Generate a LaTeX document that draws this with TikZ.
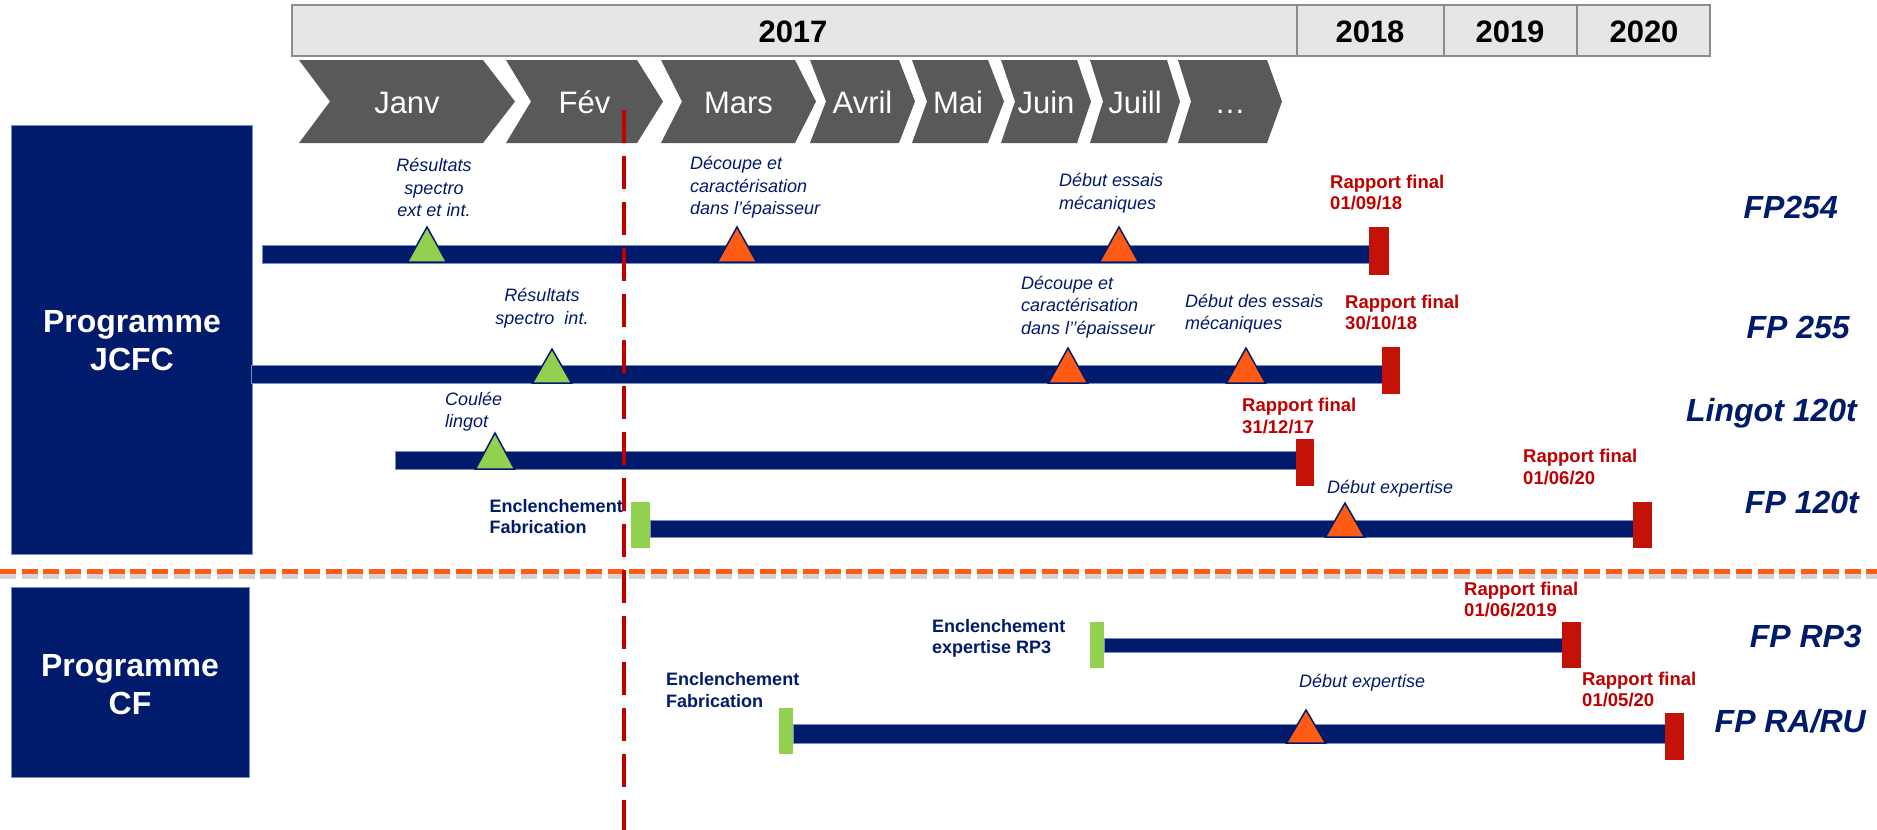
\documentclass[tikz,border=0pt]{standalone}
\usepackage{fontspec}
\setmainfont{Liberation Sans}
\definecolor{navy}{RGB}{0,26,108}
\definecolor{baredge}{RGB}{120,140,190}
\definecolor{markred}{RGB}{196,18,8}
\definecolor{textred}{RGB}{192,0,0}
\definecolor{markgreen}{RGB}{146,208,80}
\definecolor{markorange}{RGB}{255,91,20}
\definecolor{chevgray}{RGB}{89,89,89}
\definecolor{yearfill}{RGB}{230,230,230}
\definecolor{yearline}{RGB}{140,140,140}
\definecolor{todayred}{RGB}{192,0,0}
\definecolor{shadowgray}{RGB}{212,212,212}

\newcommand\fMonth{\fontsize{31}{36}\selectfont}
\newcommand\fYear{\fontsize{31}{36}\selectfont\bfseries}
\newcommand\fProg{\fontsize{32}{38}\selectfont\bfseries}
\newcommand\fRow{\fontsize{32}{36}\selectfont\bfseries\itshape}
\newcommand\fNote{\fontsize{18}{22.5}\selectfont\itshape}
\newcommand\fRed{\fontsize{18.5}{21.5}\selectfont\bfseries}
\newcommand\fStart{\fontsize{18}{21.5}\selectfont\bfseries}

\tikzset{
  yearbox/.style={fill=yearfill, draw=yearline, line width=2},
  yeartext/.style={inner sep=0, font=\fYear, text=black},
  chevfill/.style={fill=chevgray},
  monthtext/.style={inner sep=0, font=\fMonth, text=white, anchor=base},
  progbox/.style={fill=navy, draw=baredge, line width=0.8},
  progtext/.style={inner sep=0, font=\fProg, text=white, align=center},
  bar/.style={fill=navy, draw=baredge, line width=0.6},
  endmark/.style={fill=markred},
  startmark/.style={fill=markgreen},
  milestone/.style={draw=navy, line width=1.5, line join=miter},
  rowlabel/.style={inner sep=0, font=\fRow, text=navy, anchor=base east},
  note/.style={inner sep=0, font=\fNote, text=navy, align=left, anchor=west},
  notec/.style={inner sep=0, font=\fNote, text=navy, align=center, anchor=center},
  deadline/.style={inner sep=0, font=\fRed, text=textred, align=left, anchor=west},
  kickoff/.style={inner sep=0, font=\fStart, text=navy, align=left, anchor=west},
  todayline/.style={draw=todayred, line width=4, dash pattern=on 33pt off 13pt},
  separator/.style={draw=markorange, line width=5, dash pattern=on 16pt off 5.7pt},
  sepshadow/.style={draw=shadowgray, line width=6, dash pattern=on 16pt off 5.7pt},
}

\newcommand\mstone[4]{\filldraw[milestone, fill=#4] (#1,#2) -- ({#1+19.5},#3) -- ({#1-19.5},#3) -- cycle;}
\newcommand\monthchev[6]{%
  \fill[chevfill] (#1,60) -- (#2,60) -- ({#2+#3},101.5) -- (#2,143) -- (#1,143) -- ({#1+#4},101.5) -- cycle;
  \node[monthtext] (#5) at ({(#1+#2+#3)/2},113) {#6};}

\begin{document}
\begin{tikzpicture}[x=1pt,y=-1pt]
\useasboundingbox (0,0) rectangle (1877,830);
\fill[white] (0,0) rectangle (1877,830);

% year bar
\draw[yearbox] (292,5) rectangle (1710,56);
\draw[yearline, line width=2] (1297,5) -- (1297,56) (1444,5) -- (1444,56) (1577,5) -- (1577,56);
\node[yeartext] (y2017) at (793,31.5) {2017};
\node[yeartext] (y2018) at (1370,31.5) {2018};
\node[yeartext] (y2019) at (1510,31.5) {2019};
\node[yeartext] (y2020) at (1644,31.5) {2020};

% months
\monthchev{299}{483}{32}{31}{mjan}{Janv}
\monthchev{506}{637}{26}{25}{mfev}{Fév}
\monthchev{661}{795}{21}{21}{mmar}{Mars}
\monthchev{810}{899}{16}{16}{mavr}{Avril}
\monthchev{912}{988}{16}{15}{mmai}{Mai}
\monthchev{1001}{1077}{14}{14}{mjun}{Juin}
\monthchev{1090}{1167}{13}{13}{mjul}{Juill}
\monthchev{1178}{1267}{15}{13}{metc}{…}

% programme boxes
\draw[progbox] (11.5,125) rectangle (252,554);
\node[progtext] (pjcfc) at (132,341) {Programme\\JCFC};
\draw[progbox] (11.5,587) rectangle (249,777);
\node[progtext] (pcf) at (130,685) {Programme\\CF};

% bars
\draw[bar] (262,245) rectangle (1369,263);
\draw[bar] (251,365) rectangle (1382,383);
\draw[bar] (395,451) rectangle (1296,469);
\draw[bar] (650,520) rectangle (1633,537);
\draw[bar] (1104,638) rectangle (1562,652);
\draw[bar] (793,724) rectangle (1665,743);

% end markers
\fill[endmark] (1369,227) rectangle (1389,275);
\fill[endmark] (1382,347) rectangle (1400,394);
\fill[endmark] (1296,439) rectangle (1314,486);
\fill[endmark] (1633,502) rectangle (1652,548);
\fill[endmark] (1562,622) rectangle (1581,668);
\fill[endmark] (1665,713) rectangle (1684,760);
% start markers
\fill[startmark] (631,502) rectangle (650,548);
\fill[startmark] (1090,622) rectangle (1104,668);
\fill[startmark] (779,708) rectangle (793,754);

% milestones
\mstone{427}{227}{262}{markgreen}
\mstone{737}{227}{262}{markorange}
\mstone{1119}{227}{262}{markorange}
\mstone{552}{349}{383}{markgreen}
\mstone{1068}{348}{383}{markorange}
\mstone{1246}{348}{383}{markorange}
\mstone{495}{433}{469}{markgreen}
\mstone{1345}{503}{537}{markorange}
\mstone{1306}{710}{743}{markorange}

% separator
\draw[sepshadow] (0,575.5) -- (1877,575.5);
\draw[separator] (0,571) -- (1877,571);

% today line
\coordinate (todaytop) at (624,110);
\coordinate (todaybot) at (624,830);
\draw[todayline] (todaytop) -- (todaybot);

% notes FP254
\node[notec] (n1) at (434,187.5) {Résultats\\spectro\\ext et int.};
\node[note] (n2) at (690,187.5) {Découpe et\\caractérisation\\dans l’épaisseur};
\node[note] (n3) at (1059,193) {Début essais\\mécaniques};
\node[deadline] (r1) at (1330,192.5) {Rapport final\\01/09/18};
% notes FP255
\node[notec] (n4) at (542,308) {Résultats\\spectro\ \ int.};
\node[note] (n5) at (1021,307) {Découpe et\\caractérisation\\dans l’’épaisseur};
\node[note] (n6) at (1185,313.5) {Début des essais\\mécaniques};
\node[deadline] (r2) at (1345,312.5) {Rapport final\\30/10/18};
% notes Lingot
\node[note] (n7) at (445,411.5) {Coulée\\lingot};
\node[deadline] (r3) at (1242,416) {Rapport final\\31/12/17};
% notes FP120t
\node[kickoff] (k1) at (489.5,516.5) {Enclenchement\\Fabrication};
\node[note] (n8) at (1327,489) {Début expertise};
\node[deadline] (r4) at (1523,467) {Rapport final\\01/06/20};
% notes CF
\node[deadline] (r5) at (1464,599.5) {Rapport final\\01/06/2019};
\node[kickoff] (k2) at (932,638.5) {Enclenchement\\expertise RP3};
\node[kickoff] (k3) at (666,690) {Enclenchement\\Fabrication};
\node[note] (n9) at (1299,683) {Début expertise};
\node[deadline] (r6) at (1582,689.5) {Rapport final\\01/05/20};

% row labels
\node[rowlabel] (l1) at (1838,218) {FP254};
\node[rowlabel] (l2) at (1850,338) {FP 255};
\node[rowlabel] (l3) at (1857,421) {Lingot 120t};
\node[rowlabel] (l4) at (1859,513) {FP 120t};
\node[rowlabel] (l5) at (1862,647) {FP RP3};
\node[rowlabel] (l6) at (1866,732) {FP RA/RU};
\end{tikzpicture}
\end{document}
